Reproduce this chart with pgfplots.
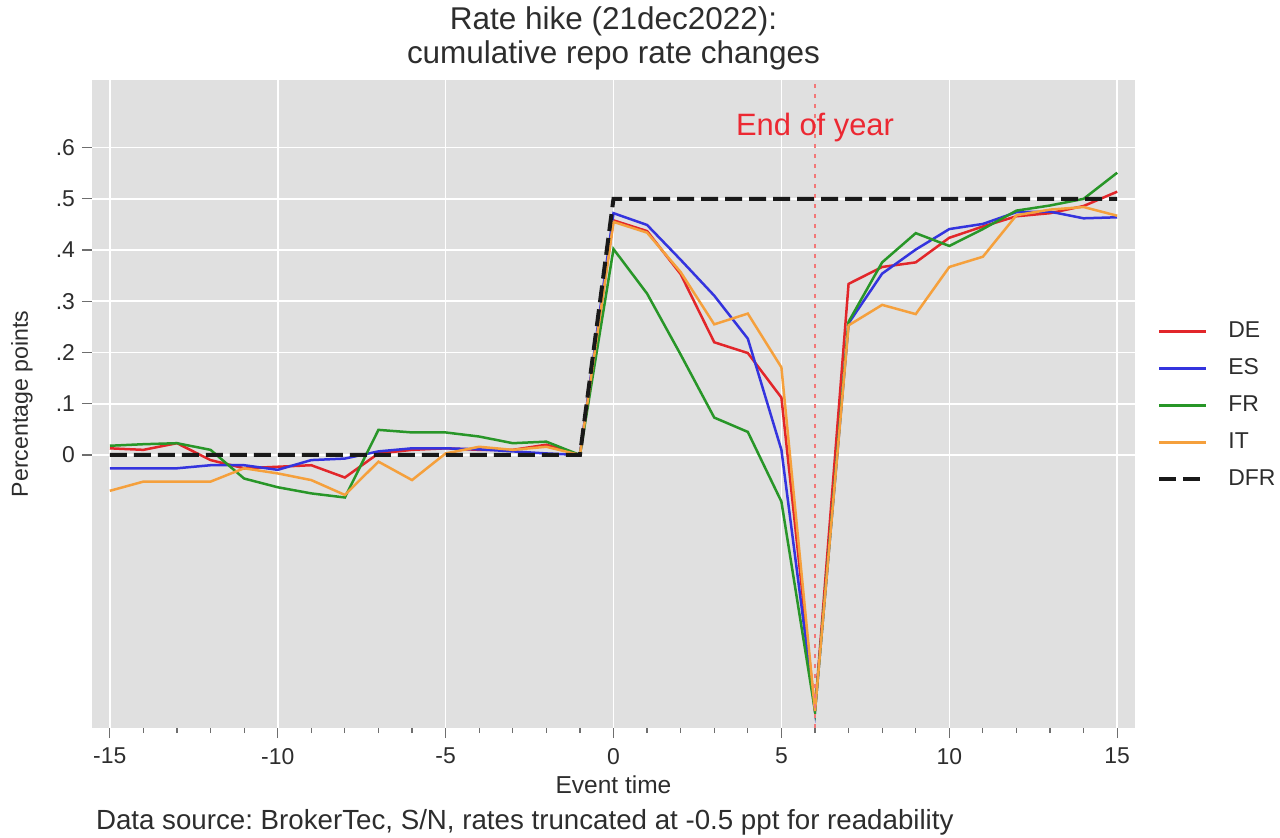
\documentclass[border=0pt]{standalone}
\usepackage{fontspec}
\setmainfont{Liberation Sans}
\usepackage{pgfplots}
\pgfplotsset{compat=1.18}
\definecolor{bg}{RGB}{224,224,224}
\definecolor{cDE}{RGB}{226,38,42}
\definecolor{cES}{RGB}{52,52,222}
\definecolor{cFR}{RGB}{40,150,40}
\definecolor{cIT}{RGB}{245,160,60}
\definecolor{cEOY}{RGB}{236,40,50}
\definecolor{cline}{RGB}{242,120,120}
\definecolor{txt}{RGB}{45,45,45}
\definecolor{tk}{RGB}{110,110,110}

\pgfplotstableread{
t DE ES FR IT
-15 0.013 -0.026 0.018 -0.070
-14 0.010 -0.026 0.021 -0.052
-13 0.023 -0.026 0.023 -0.052
-12 -0.010 -0.020 0.010 -0.052
-11 -0.026 -0.020 -0.046 -0.026
-10 -0.023 -0.029 -0.063 -0.036
-9 -0.020 -0.010 -0.075 -0.049
-8 -0.044 -0.007 -0.083 -0.078
-7 0.003 0.007 0.049 -0.013
-6 0.010 0.013 0.044 -0.049
-5 0.013 0.013 0.044 0.003
-4 0.010 0.011 0.036 0.016
-3 0.010 0.007 0.023 0.010
-2 0.020 0.003 0.026 0.016
-1 0.000 0.000 0.000 0.000
0 0.458 0.472 0.402 0.455
1 0.437 0.449 0.315 0.434
2 0.353 0.381 0.196 0.357
3 0.220 0.311 0.073 0.255
4 0.199 0.227 0.045 0.276
5 0.112 0.010 -0.091 0.171
6 -0.500 -0.500 -0.500 -0.500
7 0.334 0.257 0.260 0.253
8 0.367 0.354 0.376 0.293
9 0.376 0.401 0.433 0.275
10 0.424 0.441 0.408 0.367
11 0.446 0.451 0.441 0.387
12 0.466 0.474 0.477 0.468
13 0.472 0.475 0.487 0.479
14 0.486 0.462 0.500 0.484
15 0.514 0.464 0.551 0.467
}\rates

\begin{document}
\frenchspacing
\begin{tikzpicture}
\begin{axis}[
  name=ax,
  scale only axis, width=521.5bp, height=324bp,
  xmin=-15.53, xmax=15.53, ymin=-0.533, ymax=0.732,
  axis background/.style={fill=bg},
  axis x line*=bottom, axis y line*=left,
  axis line style={draw=none},
  tick align=outside,
  xtick={-15,-10,-5,0,5,10,15},
  xticklabels={-15,-10,-5,0,5,10,15},
  minor xtick={-14,-13,-12,-11,-9,-8,-7,-6,-4,-3,-2,-1,1,2,3,4,6,7,8,9,11,12,13,14},
  ytick={0,0.1,0.2,0.3,0.4,0.5,0.6},
  yticklabels={0,.1,.2,.3,.4,.5,.6},
  major tick length=5bp, minor tick length=2.5bp,
  every tick/.style={tk, line width=0.6bp},
  xmajorgrids, ymajorgrids,
  major grid style={white, line width=0.8bp},
  tick label style={font=\fontsize{11.5}{13}\selectfont, text=txt},
  xticklabel style={yshift=-1.5bp},
  xlabel={Event time}, ylabel={Percentage points},
  xlabel style={at={(rel axis cs:0.5,-0.088)}, anchor=center, font=\fontsize{12.3}{14}\selectfont, text=txt},
  ylabel style={at={(rel axis cs:-0.0671,0.5)}, anchor=center, font=\fontsize{11.6}{14}\selectfont, text=txt},
  title={Rate hike (21dec2022):\\cumulative repo rate changes},
  title style={at={(rel axis cs:0.5,1.0463)}, anchor=center, align=center, font=\fontsize{15.8}{17}\selectfont, text=txt},
  legend style={at={(1,0.498)}, xshift=11bp, anchor=west, draw=none, fill=none,
    font=\fontsize{11.5}{13}\selectfont, text=txt, inner sep=0pt, row sep=7.5bp, column sep=10bp,
    nodes={inner sep=0pt, text height=8.5bp, text depth=2.5bp}},
  legend cell align=left,
  legend image code/.code={\draw[#1] (0bp,0bp) -- (23.5bp,0bp);},
  clip=false,
]
\addplot[cDE, line width=1.25bp] table[x=t, y=DE] {\rates};
\addlegendentry{DE}
\addplot[cES, line width=1.25bp] table[x=t, y=ES] {\rates};
\addlegendentry{ES}
\addplot[cFR, line width=1.25bp] table[x=t, y=FR] {\rates};
\addlegendentry{FR}
\addplot[cIT, line width=1.25bp] table[x=t, y=IT] {\rates};
\addlegendentry{IT}
\addplot[black!90, line width=2bp, dash pattern=on 8.5bp off 3.5bp] coordinates {
(-15,0) (-14,0) (-13,0) (-12,0) (-11,0) (-10,0) (-9,0) (-8,0) (-7,0) (-6,0) (-5,0) (-4,0) (-3,0) (-2,0) (-1,0)
(0,0.5) (1,0.5) (2,0.5) (3,0.5) (4,0.5) (5,0.5) (6,0.5) (7,0.5) (8,0.5) (9,0.5) (10,0.5) (11,0.5) (12,0.5) (13,0.5) (14,0.5) (15,0.5)};
\addlegendentry{DFR}
\addplot[cline, line width=1.2bp, dash pattern=on 2bp off 3bp, forget plot] coordinates {(6,-0.533) (6,0.732)};
\node[text=cEOY, font=\fontsize{15.5}{17}\selectfont] at (axis cs:6,0.64) {End of year};
\end{axis}
\node[anchor=west, font=\fontsize{13.9}{16}\selectfont, text=txt] at ([xshift=-1.5bp, yshift=-47bp]ax.south west) {Data source: BrokerTec, S/N, rates truncated at -0.5 ppt for readability};
\pgfresetboundingbox
\path ([xshift=-46bp, yshift=-54.5bp]ax.south west) rectangle ([xshift=72.5bp, yshift=40bp]ax.north east);
\end{tikzpicture}
\end{document}
